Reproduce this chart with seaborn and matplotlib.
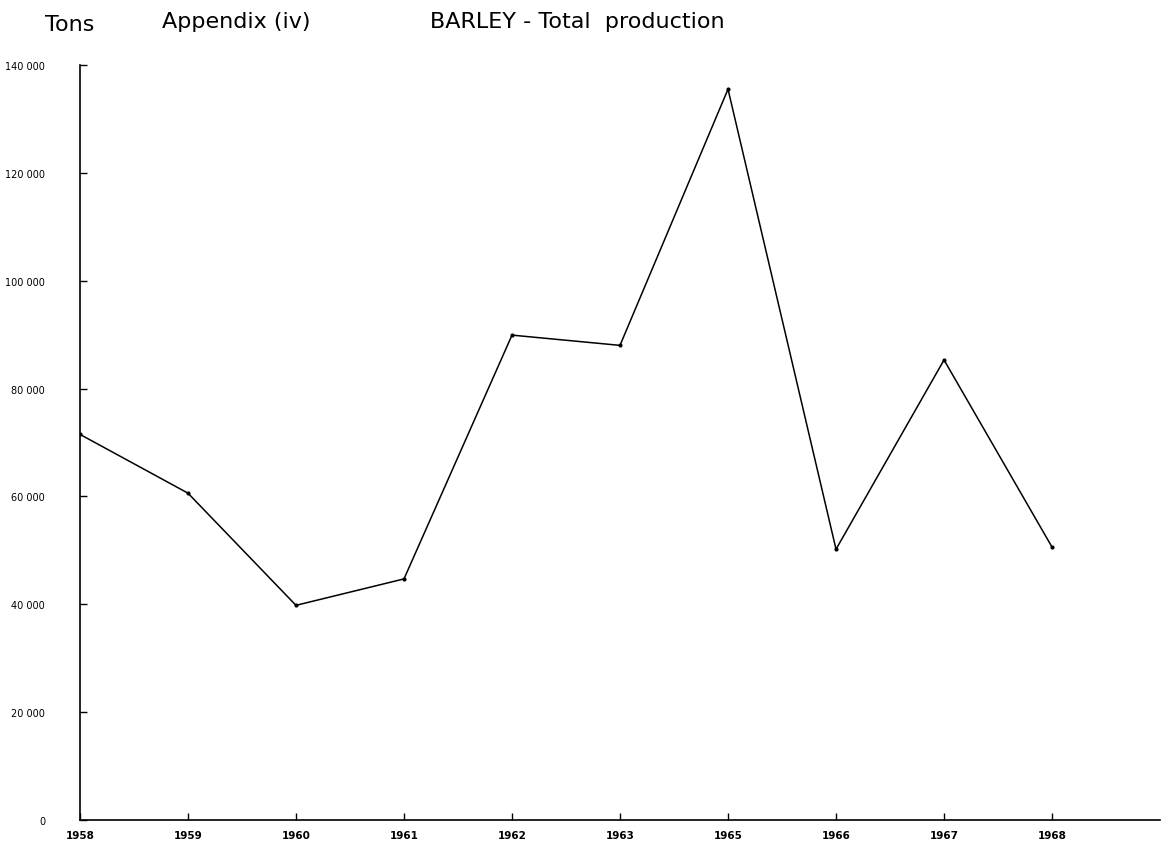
import pandas as pd
import matplotlib
matplotlib.use("Agg")
import matplotlib.pyplot as plt
import seaborn as sns

# data (1964 is missing in the original)
years = ["1958", "1959", "1960", "1961", "1962", "1963", "1965", "1966", "1967", "1968"]
tons = [71500, 60600, 39800, 44700, 89900, 88000, 135500, 50200, 85300, 50600]
y_ticks = [0, 20000, 40000, 60000, 80000, 100000, 120000, 140000]
y_labels = ["0", "20 000", "40 000", "60 000", "80 000", "100 000", "120 000", "140 000"]

df = pd.DataFrame({"year": years, "tons": tons})
df["pos"] = range(len(df))

sns.set_style("white")
plt.rcParams["font.family"] = ["DejaVu Sans"]
plt.rcParams["text.color"] = "black"
plt.rcParams["xtick.color"] = "black"
plt.rcParams["ytick.color"] = "black"

fig = plt.figure(figsize=(11.64, 8.45), dpi=100)
ax = fig.add_axes([0.0687, 0.0284, 0.9279, 0.8936])

sns.lineplot(data=df, x="pos", y="tons", color="black", linewidth=1.1,
             marker="o", markersize=3, markeredgewidth=0, ax=ax)

ax.set_xlim(0, 10)
ax.set_ylim(0, 140000)
ax.set_xticks(df["pos"])
ax.set_xticklabels(years, fontsize=7.5, fontweight="bold")
ax.set_yticks(y_ticks)
ax.set_yticklabels(y_labels, fontsize=7)
ax.tick_params(axis="y", left=True, direction="in", length=5, width=1, pad=25)
ax.tick_params(axis="x", bottom=True, direction="in", length=5, width=1, pad=7)
ax.set_xlabel("")
ax.set_ylabel("")

for s in ["top", "right"]:
    ax.spines[s].set_visible(False)
for s in ["left", "bottom"]:
    ax.spines[s].set_color("black")
    ax.spines[s].set_linewidth(1.2)

fig.text(45 / 1164, 1 - 25 / 845, "Tons", fontsize=16, va="center", ha="left")
fig.text(162 / 1164, 1 - 22 / 845, "Appendix (iv)", fontsize=16, va="center", ha="left")
fig.text(430 / 1164, 1 - 22 / 845, "BARLEY - Total  production", fontsize=16, va="center", ha="left")

fig.savefig("out.png", dpi=100, facecolor="white")
